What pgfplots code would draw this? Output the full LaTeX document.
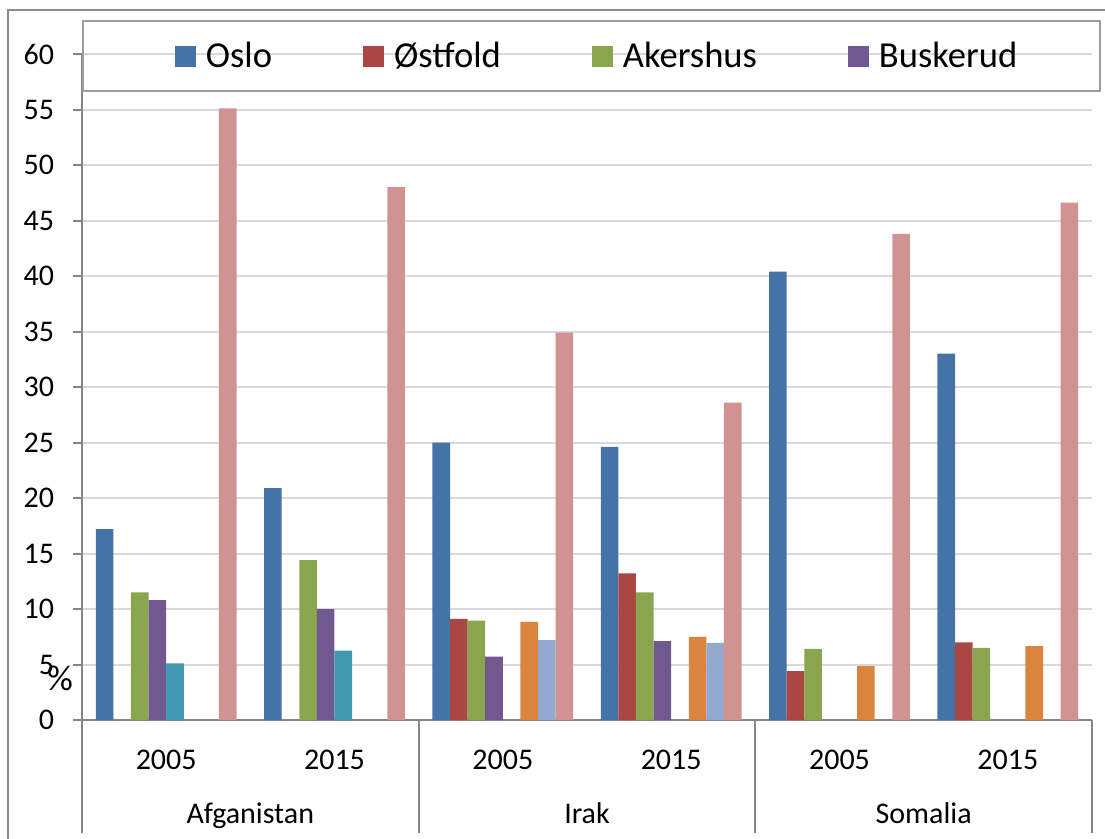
\documentclass[border=0pt]{standalone}
\usepackage{fontspec}
\setmainfont{Carlito}
\usepackage{pgfplots}
\pgfplotsset{compat=1.18}

\definecolor{cOslo}{HTML}{4572A7}
\definecolor{cOstfold}{HTML}{AA4643}
\definecolor{cAkershus}{HTML}{89A54E}
\definecolor{cBuskerud}{HTML}{71588F}
\definecolor{cTeal}{HTML}{4198AF}
\definecolor{cOrange}{HTML}{DB843D}
\definecolor{cLightblue}{HTML}{93A9CF}
\definecolor{cPink}{HTML}{D19392}
\definecolor{axisgray}{HTML}{868686}
\definecolor{gridgray}{HTML}{D9D9D9}
\definecolor{framegray}{HTML}{8C8C8C}

\begin{document}
\begin{tikzpicture}
\path[use as bounding box] (-41bp,-59.5bp) rectangle (511.5bp,360bp);
% outer chart frame (only top and left edges are visible)
\draw[framegray, line width=1bp] (-37bp,-59.5bp) -- (-37bp,355bp) -- (511.5bp,355bp);
\begin{axis}[
    scale only axis,
    width=505bp,
    height=333bp,
    clip=false,
    xmin=0.5, xmax=6.5,
    ymin=0, ymax=60,
    ybar=0pt,
    bar width=8.8bp,
    axis lines*=left,
    axis line style={axisgray, line width=1bp},
    ytick={0,5,...,60},
    ymajorgrids,
    grid style={gridgray, line width=1bp},
    tick align=outside,
    major tick length=4.5bp,
    ytick style={axisgray, line width=1bp},
    xtick={1,...,6},
    xticklabels={2005,2015,2005,2015,2005,2015},
    xtick style={draw=none},
    tick label style={font=\fontsize{15bp}{17bp}\selectfont},
    xticklabel style={anchor=center, yshift=-15.5bp},
    yticklabel style={anchor=east, xshift=-6bp},
    /pgf/number format/assume math mode=true,
    legend entries={Oslo,Østfold,Akershus,Buskerud},
    legend columns=4,
    legend style={at={(0.511,0.997)}, anchor=center, draw=none, fill=none,
        font=\fontsize{18.3bp}{21bp}\selectfont,
        /tikz/every even column/.append style={column sep=43.5bp}},
    legend image code/.code={\fill[#1] (0bp,-5.25bp) rectangle (10.5bp,5.25bp); \path (13.5bp,0bp);},
]
\addplot[fill=cOslo, draw=none] coordinates {(1,17.2) (2,20.9) (3,25.0) (4,24.6) (5,40.4) (6,33.0)};
\addplot[fill=cOstfold, draw=none] coordinates {(3,9.1) (4,13.2) (5,4.4) (6,7.0)};
\addplot[fill=cAkershus, draw=none] coordinates {(1,11.5) (2,14.4) (3,8.95) (4,11.5) (5,6.4) (6,6.5)};
\addplot[fill=cBuskerud, draw=none] coordinates {(1,10.8) (2,10.0) (3,5.7) (4,7.1)};
\addplot[fill=cTeal, draw=none] coordinates {(1,5.1) (2,6.25)};
\addplot[fill=cOrange, draw=none] coordinates {(3,8.85) (4,7.5) (5,4.85) (6,6.65)};
\addplot[fill=cLightblue, draw=none] coordinates {(3,7.2) (4,6.95)};
\addplot[fill=cPink, draw=none] coordinates {(1,55.1) (2,48.0) (3,34.9) (4,28.6) (5,43.8) (6,46.6)};

% category separators and country labels
\foreach \s in {0.5,2.5,4.5,6.5} {
  \edef\temp{\noexpand\draw[axisgray, line width=1bp] (axis cs:\s,0) -- ([yshift=-56.5bp]axis cs:\s,0);}
  \temp
}
\node[font=\fontsize{15bp}{17bp}\selectfont, anchor=base, yshift=-51.5bp] at (axis cs:1.5,0) {Afganistan};
\node[font=\fontsize{15bp}{17bp}\selectfont, anchor=base, yshift=-51.5bp] at (axis cs:3.5,0) {Irak};
\node[font=\fontsize{15bp}{17bp}\selectfont, anchor=base, yshift=-51.5bp] at (axis cs:5.5,0) {Somalia};
\node[font=\fontsize{18bp}{20bp}\selectfont] at (rel axis cs:0,0) [xshift=-11bp, yshift=21bp] {\%};
\end{axis}
% legend frame
\draw[axisgray!80, line width=1bp] (0.35bp,314.5bp) rectangle (509bp,349.5bp);
\end{tikzpicture}
\end{document}
